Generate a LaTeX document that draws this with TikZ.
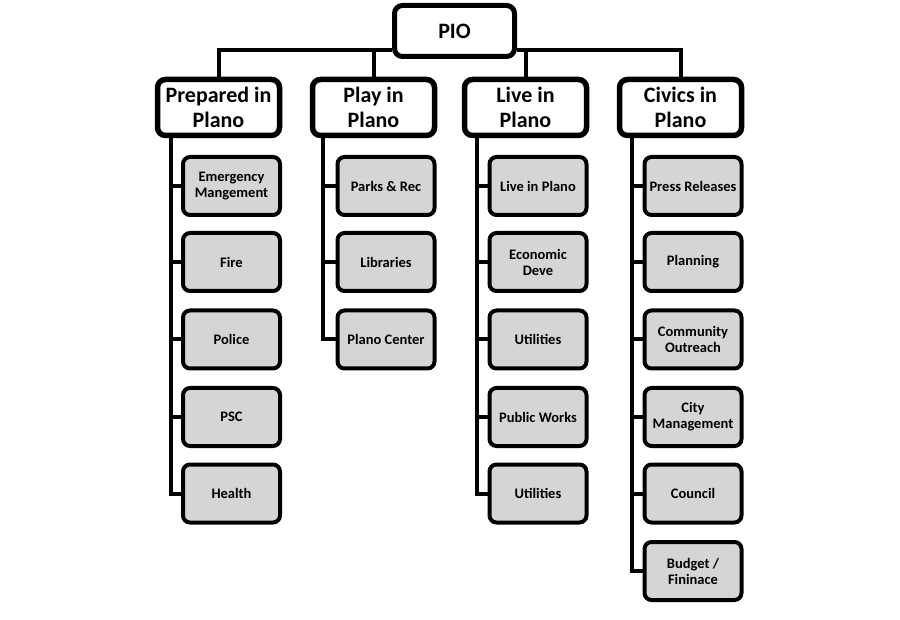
\documentclass[tikz,border=0pt]{standalone}
\usepackage{fontspec}
\setmainfont{Carlito}
\begin{document}
\begin{tikzpicture}[x=1pt,y=-1pt,
  conn/.style={line width=4pt,draw=black},
  topbox/.style={draw=black,line width=5pt,rounded corners=8pt,fill=white,
    minimum width=120pt,minimum height=51pt,inner sep=0pt,font=\bfseries\fontsize{22}{26}\selectfont},
  lvlbox/.style={draw=black,line width=5.5pt,rounded corners=8pt,fill=white,
    minimum width=122pt,minimum height=56pt,inner sep=0pt,align=center,font=\bfseries\fontsize{22}{25}\selectfont},
  subbox/.style={draw=black,line width=4pt,rounded corners=7pt,fill=gray!33,
    minimum width=97pt,minimum height=58pt,inner sep=0pt,align=center,font=\bfseries\fontsize{14.5}{16}\selectfont},
  subtxt/.style={font=\bfseries\fontsize{14.5}{16}\selectfont\spaceskip=0.15em}]
\useasboundingbox (0,0) rectangle (900,620);
\fill[white] (0,0) rectangle (900,620);

\node[topbox] (pio) at (454.5,31) {PIO};

\node[lvlbox] (p1) at (218.5,107.5) {Prepared in\\Plano};
\node[lvlbox] (p2) at (373.5,107.5) {Play in\\Plano};
\node[lvlbox] (p3) at (525.5,107.5) {Live in\\Plano};
\node[lvlbox] (p4) at (680.5,107.5) {Civics in\\Plano};

\coordinate (bus) at (0,50);
\coordinate (t1) at (171,0);
\coordinate (t2) at (323,0);
\coordinate (t3) at (477,0);
\coordinate (t4) at (632,0);

% bus lines
\begin{scope}[conn]
\draw (pio.west |- bus) -| (p1.north);
\draw (pio.east |- bus) -| (p4.north);
\draw (p2.north |- bus) -- (p2.north);
\draw (p3.north |- bus) -- (p3.north);
\end{scope}

% children
\node[subbox] (a1) at (231.5,186) {Emergency\\Mangement};
\node[subbox] (a2) at (231.5,262) {Fire};
\node[subbox] (a3) at (231.5,339.5) {Police};
\node[subbox] (a4) at (231.5,417) {PSC};
\node[subbox] (a5) at (231.5,493.5) {Health};

\node[subbox] (b1) at (386,186) {Parks \& Rec};
\node[subbox] (b2) at (386,262) {Libraries};
\node[subbox] (b3) at (386,339.5) {Plano Center};

\node[subbox] (c1) at (538,186) {Live in Plano};
\node[subbox] (c2) at (538,262) {Economic\\Deve};
\node[subbox] (c3) at (538,339.5) {Utilities};
\node[subbox] (c4) at (538,417) {Public Works};
\node[subbox] (c5) at (538,493.5) {Utilities};

\node[subbox] (d1) at (693,186) {Press Releases};
\node[subbox] (d2) at (693,262) {Planning};
\node[subbox] (d3) at (693,339.5) {Community\\Outreach};
\node[subbox] (d4) at (693,417) {City\\Management};
\node[subbox] (d5) at (693,493.5) {Council};
\node[subbox] (d6) at (693,571) {Budget /\\Fininace};

% trunks
\begin{scope}[conn]
\draw (t1 |- p1.south) -- (t1 |- a5.west) -- (a5.west);
\foreach \n in {a1,a2,a3,a4} \draw (t1 |- \n.west) -- (\n.west);
\draw (t2 |- p2.south) -- (t2 |- b3.west) -- (b3.west);
\foreach \n in {b1,b2} \draw (t2 |- \n.west) -- (\n.west);
\draw (t3 |- p3.south) -- (t3 |- c5.west) -- (c5.west);
\foreach \n in {c1,c2,c3,c4} \draw (t3 |- \n.west) -- (\n.west);
\draw (t4 |- p4.south) -- (t4 |- d6.west) -- (d6.west);
\foreach \n in {d1,d2,d3,d4,d5} \draw (t4 |- \n.west) -- (\n.west);
\end{scope}
\end{tikzpicture}
\end{document}
